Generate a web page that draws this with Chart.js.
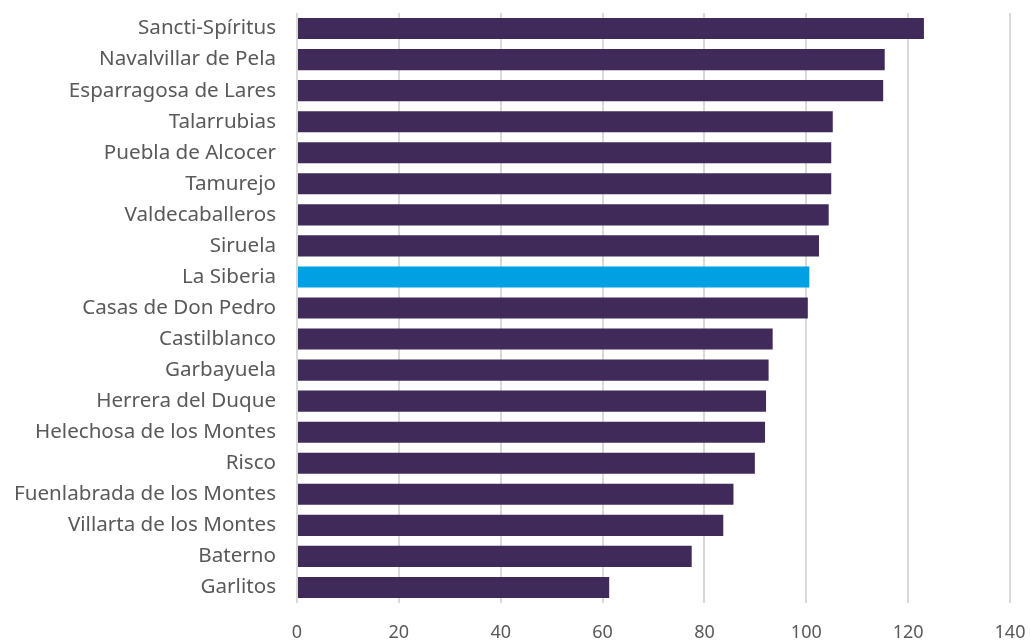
<!DOCTYPE html>
<html>
<head>
<meta charset="utf-8">
<script src="https://cdn.jsdelivr.net/npm/chart.js@4"></script>
<style>
    html, body { margin: 0; padding: 0; background: #fff; }
    #wrap { width: 1030px; height: 644px; }
</style>
</head>
<body>
<div id="wrap"><canvas id="barChart"></canvas></div>
<script>
// Municipios (de arriba a abajo)
const categories = [
    "Sancti-Spíritus", "Navalvillar de Pela", "Esparragosa de Lares", "Talarrubias",
    "Puebla de Alcocer", "Tamurejo", "Valdecaballeros", "Siruela", "La Siberia",
    "Casas de Don Pedro", "Castilblanco", "Garbayuela", "Herrera del Duque",
    "Helechosa de los Montes", "Risco", "Fuenlabrada de los Montes",
    "Villarta de los Montes", "Baterno", "Garlitos"
];

// Valores
const values = [
    123.1, 115.4, 115.1, 105.2,
    104.9, 104.9, 104.4, 102.5, 100.6,
    100.3, 93.4, 92.6, 92.1,
    91.9, 89.9, 85.7,
    83.7, 77.5, 61.3
];

// Eje X
const xTicks = [0, 20, 40, 60, 80, 100, 120, 140];

const highlight = "La Siberia";
const colorMain = "#3f2a5a";
const colorHighlight = "#00a0e3";

const ctx = document.getElementById("barChart").getContext("2d");

new Chart(ctx, {
    type: "bar",
    data: {
        labels: categories,
        datasets: [{
            data: values,
            backgroundColor: categories.map(c => c === highlight ? colorHighlight : colorMain),
            borderWidth: 0,
            barPercentage: 0.68,
            categoryPercentage: 1.0,
        }],
    },
    options: {
        indexAxis: "y",
        responsive: true,
        maintainAspectRatio: false,
        animation: false,
        layout: { padding: { top: 13, right: 20, left: 0, bottom: 0 } },
        plugins: {
            legend: { display: false },
            tooltip: { enabled: false },
        },
        scales: {
            x: {
                min: 0,
                max: 140,
                afterBuildTicks: (scale) => { scale.ticks = xTicks.map(v => ({ value: v })); },
                afterFit: (scale) => {
                    scale.height = 41;
                    scale.paddingLeft = 0;
                    scale.paddingRight = 0;
                },
                border: { display: false },
                grid: {
                    color: "#d9d9d9",
                    lineWidth: 2,
                    drawTicks: false,
                },
                ticks: {
                    color: "#595959",
                    padding: 19,
                    font: { family: "Noto Sans", size: 18 },
                },
            },
            y: {
                afterFit: (scale) => {
                    scale.width = 297;
                    scale.paddingTop = 0;
                    scale.paddingBottom = 0;
                },
                border: { display: false },
                grid: { display: false, drawTicks: false },
                ticks: {
                    color: "#595959",
                    padding: 21,
                    autoSkip: false,
                    font: { family: "Noto Sans", size: 20.6 },
                },
            },
        },
    },
});
</script>
</body>
</html>
